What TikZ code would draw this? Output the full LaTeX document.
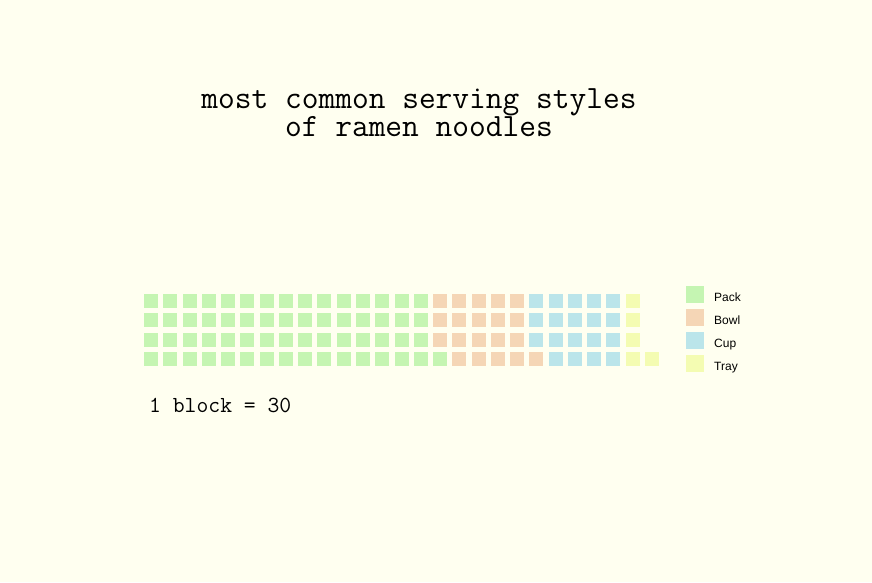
\documentclass[tikz,border=0pt]{standalone}
\usepackage{fontspec}
\setsansfont{Liberation Sans}
\usepackage{tikz}
\usetikzlibrary{positioning}
\definecolor{bgc}{RGB}{255,255,240}
\definecolor{pack}{RGB}{197,245,178}
\definecolor{bowl}{RGB}{245,214,182}
\definecolor{cup}{RGB}{187,229,234}
\definecolor{tray}{RGB}{244,252,178}
\tikzstyle{title} = [anchor=base, inner sep=0pt, align=center, font=\ttfamily\fontsize{32.5}{28}\selectfont]
\tikzstyle{note} = [anchor=base west, inner sep=0pt, font=\ttfamily\fontsize{23}{27}\selectfont]
\tikzstyle{legend label} = [anchor=base west, inner sep=0pt, font=\sffamily\fontsize{12}{14}\selectfont]

\begin{document}
\begin{tikzpicture}[x=1pt, y=-1pt]
    \fill[bgc] (0, 0) rectangle (872, 582);
    \useasboundingbox (0, 0) rectangle (872, 582);
    \node[title] (title) at (419, 136) {most common serving styles\\of ramen noodles};
    % one block per 30, filled column by column from the bottom
    \foreach \n in {0,...,104} {
        \pgfmathtruncatemacro{\col}{\n/4}
        \pgfmathtruncatemacro{\row}{3-mod(\n,4)}
        \ifnum\n<61 \def\fillc{pack}\else\ifnum\n<81 \def\fillc{bowl}\else\ifnum\n<100 \def\fillc{cup}\else\def\fillc{tray}\fi\fi\fi
        \fill[\fillc] (144+\col*19.27, 294+\row*19.3) rectangle ++(14, 14);
    }
    \foreach \lab/\c [count=\i from 0] in {Pack/pack, Bowl/bowl, Cup/cup, Tray/tray} {
        \fill[\c] (686, 286+\i*23) rectangle ++(18, 17);
        \node[legend label] (leg\c) at (714, 301+\i*23) {\lab};
    }
    \node[note] (scale) at (149, 412) {1 block = 30};
\end{tikzpicture}
\end{document}
